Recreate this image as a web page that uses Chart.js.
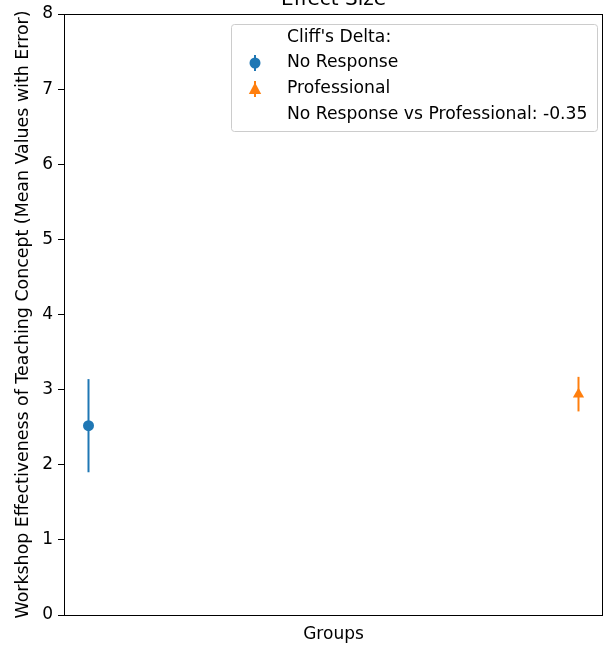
<!DOCTYPE html>
<html>
<head>
<meta charset="utf-8">
<script src="https://cdn.jsdelivr.net/npm/chart.js@4.4.1/dist/chart.umd.min.js"></script>
<style>
  html, body { margin: 0; padding: 0; background: #fff; }
  #wrap { width: 605px; height: 645px; position: relative; }
</style>
</head>
<body>
<div id="wrap"><canvas id="effectChart" width="605" height="645"></canvas></div>
<script>
// === Data ===
const groups = ["No Response", "Professional"];
const groupPos = [0, 1];
const means = [2.52, 2.94];
const yerr = [0.62, 0.23];
const colors = ["#1f77b4", "#ff7f0e"];
const markers = ["circle", "triangle"];
const yTicks = [0, 1, 2, 3, 4, 5, 6, 7, 8];
const legendTitle = "Cliff's Delta:";
const deltaLabel = "No Response vs Professional: -0.35";

const FONT = "'DejaVu Sans', sans-serif";

function drawMarker(ctx, style, x, y, r, color) {
  ctx.fillStyle = color;
  ctx.beginPath();
  if (style === "circle") {
    ctx.arc(x, y, r, 0, Math.PI * 2);
  } else {
    ctx.moveTo(x, y - r);
    ctx.lineTo(x + r * 0.95, y + r * 0.75);
    ctx.lineTo(x - r * 0.95, y + r * 0.75);
    ctx.closePath();
  }
  ctx.fill();
}

// error bars, frame, cut-off title and legend box
const errorBarsPlugin = {
  id: "errorBars",
  beforeDatasetsDraw(chart) {
    const ctx = chart.ctx;
    const xs = chart.scales.x, ys = chart.scales.y;
    ctx.save();
    ctx.lineWidth = 2;
    groups.forEach((g, i) => {
      const x = xs.getPixelForValue(groupPos[i]);
      ctx.strokeStyle = colors[i];
      ctx.beginPath();
      ctx.moveTo(x, ys.getPixelForValue(means[i] - yerr[i]));
      ctx.lineTo(x, ys.getPixelForValue(means[i] + yerr[i]));
      ctx.stroke();
    });
    ctx.restore();
  },
  afterDraw(chart) {
    const ctx = chart.ctx;
    const a = chart.chartArea;
    ctx.save();
    ctx.strokeStyle = "#000";
    ctx.lineWidth = 1;
    ctx.strokeRect(Math.round(a.left) + 0.5, Math.round(a.top) + 0.5,
      Math.round(a.right - a.left) - 1, Math.round(a.bottom - a.top));

    ctx.fillStyle = "#000";
    ctx.font = "20px " + FONT;
    ctx.textAlign = "center";
    ctx.textBaseline = "alphabetic";
    ctx.fillText("Effect Size", (a.left + a.right) / 2, 5);

    const bx = 231, by = 24, bw = 366, bh = 107;
    ctx.fillStyle = "rgba(255,255,255,0.8)";
    ctx.strokeStyle = "#cccccc";
    ctx.beginPath();
    ctx.roundRect(bx + 0.5, by + 0.5, bw, bh, 3);
    ctx.fill();
    ctx.stroke();

    ctx.font = "17.2px " + FONT;
    ctx.textAlign = "left";
    ctx.textBaseline = "middle";
    ctx.fillStyle = "#000";
    ctx.fillText(legendTitle, 287, 38);
    groups.forEach((g, i) => {
      const ry = 63 + i * 26;
      ctx.strokeStyle = colors[i];
      ctx.lineWidth = 2;
      ctx.beginPath();
      ctx.moveTo(255, ry - 8);
      ctx.lineTo(255, ry + 8);
      ctx.stroke();
      drawMarker(ctx, markers[i], 255, ry, markers[i] === "circle" ? 5.5 : 6.5, colors[i]);
      ctx.fillStyle = "#000";
      ctx.fillText(g, 287, ry);
    });
    ctx.fillText(deltaLabel, 287, 115);
    ctx.restore();
  }
};

const ctx = document.getElementById("effectChart").getContext("2d");
new Chart(ctx, {
  type: "scatter",
  data: {
    datasets: groups.map((g, i) => ({
      label: g,
      data: [{ x: groupPos[i], y: means[i] }],
      backgroundColor: colors[i],
      borderColor: colors[i],
      pointStyle: markers[i],
      pointRadius: markers[i] === "circle" ? 5.5 : 6.5,
      pointBorderWidth: 0
    }))
  },
  options: {
    responsive: false,
    animation: false,
    events: [],
    layout: { autoPadding: false, padding: { top: 14, right: 2, left: 0, bottom: 0 } },
    plugins: {
      legend: { display: false },
      tooltip: { enabled: false }
    },
    scales: {
      x: {
        type: "linear",
        min: -0.05,
        max: 1.05,
        ticks: { display: false },
        grid: { display: false },
        border: { display: false },
        title: {
          display: true,
          text: "Groups",
          color: "#000",
          font: { family: FONT, size: 17 },
          padding: { top: 5, bottom: 0 }
        },
        afterFit(scale) {
          scale.height = 30;
          scale.paddingLeft = 0;
          scale.paddingRight = 0;
        }
      },
      y: {
        min: 0,
        max: 8,
        afterBuildTicks(scale) { scale.ticks = yTicks.map(v => ({ value: v })); },
        ticks: {
          color: "#000",
          font: { family: FONT, size: 17 },
          padding: 5
        },
        grid: {
          drawOnChartArea: false,
          drawTicks: true,
          tickLength: 6,
          color: "#000"
        },
        border: { display: false },
        title: {
          display: true,
          text: "Workshop Effectiveness of Teaching Concept (Mean Values with Error)",
          color: "#000",
          font: { family: FONT, size: 17.4 },
          padding: { top: 13, bottom: 0 }
        },
        afterFit(scale) {
          scale.width = 64;
          scale.paddingTop = 0;
          scale.paddingBottom = 0;
        }
      }
    }
  },
  plugins: [errorBarsPlugin]
});
</script>
</body>
</html>
